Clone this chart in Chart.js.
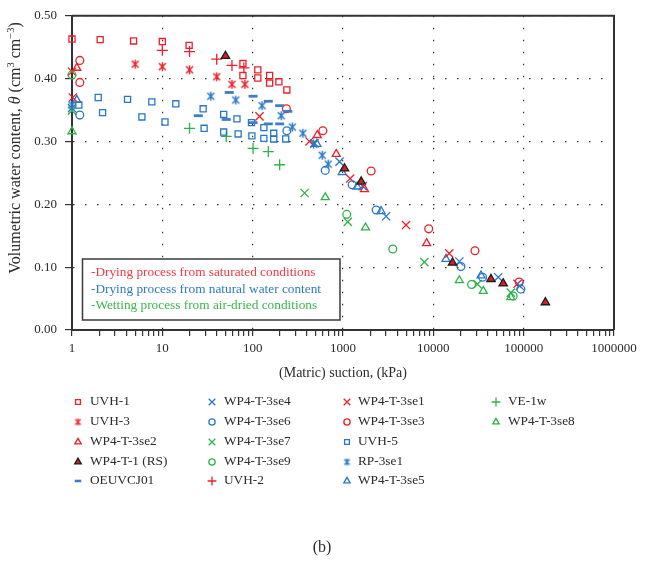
<!DOCTYPE html>
<html lang="en">
<head>
<meta charset="UTF-8" />
<title>Water retention data</title>
<script src="https://cdn.jsdelivr.net/npm/chart.js"></script>
<style>
  html, body { margin: 0; padding: 0; background: #fff; }
  #wrap { width: 645px; height: 561px; }
</style>
</head>
<body>
<div id="wrap"><canvas id="wrc" width="645" height="561"></canvas></div>
<script>
// [suction kPa, volumetric water content]
const uvh1 = [[1,0.463],[2.05,0.462],[4.8,0.460],[10,0.459],[19.8,0.453],[78,0.424],[78,0.405],[114,0.414],[114,0.401],[154,0.405],[154,0.393],[195,0.395],[239,0.382]];
const uvh3 = [[5,0.423],[10,0.419],[20,0.414],[40,0.403],[59,0.391],[82,0.391]];
const se2 = [[1.13,0.417],[519,0.310],[841,0.280],[1730,0.224],[8430,0.138]];
const rs1 = [[50,0.436],[1040,0.257],[1590,0.236],[16300,0.107],[43400,0.081],[59300,0.074],[174000,0.044]];
const oeuvcj01 = [[25,0.341],[51,0.335],[55,0.378],[101,0.372],[101,0.330],[149,0.364],[149,0.328],[199,0.357],[199,0.328],[245,0.348]];
const se4 = [[1,0.353],[484,0.297],[915,0.268],[1655,0.229],[3000,0.181],[19400,0.109],[52300,0.084],[90800,0.070]];
const se6 = [[1.22,0.342],[239,0.317],[636,0.254],[1262,0.231],[2330,0.191],[20200,0.101],[35100,0.084],[93100,0.065]];
const se7 = [[1,0.349],[376,0.218],[1130,0.172],[7960,0.108],[30800,0.073],[72100,0.0595]];
const se9 = [[1,0.406],[1100,0.184],[3560,0.129],[26500,0.0725],[76500,0.054]];
const uvh2 = [[10,0.445],[20,0.443],[40,0.431],[59,0.421],[80,0.417]];
const se1 = [[1,0.411],[1.02,0.370],[119,0.340],[426,0.300],[1200,0.241],[4990,0.167],[15000,0.122],[85500,0.0735]];
const se3 = [[1.22,0.429],[1.22,0.394],[236,0.352],[598,0.317],[2050,0.253],[8880,0.161],[28900,0.126],[89200,0.0765]];
const uvh5 = [[1.19,0.358],[1.95,0.370],[2.18,0.346],[4.12,0.367],[5.94,0.339],[7.65,0.363],[10.7,0.331],[14.1,0.360],[28.3,0.352],[29,0.321],[47.8,0.343],[47.8,0.315],[67,0.336],[69,0.312],[97,0.330],[98,0.309],[133,0.322],[133,0.305],[171,0.313],[171,0.304],[232,0.304]];
const rp3se1 = [[1,0.358],[34.4,0.372],[65,0.366],[127,0.357],[207,0.341],[275,0.323],[360,0.313],[472,0.296],[589,0.278],[686,0.264]];
const se5 = [[1.13,0.366],[514,0.296],[980,0.251],[1435,0.228],[2640,0.189],[13800,0.113],[33700,0.0865]];
const ve1w = [[20,0.321],[51,0.308],[101,0.289],[149,0.284],[199,0.263]];
const se8 = [[1,0.316],[636,0.211],[1775,0.163],[19400,0.079],[35700,0.062],[72100,0.052]];

const xTickLabels = ['1', '10', '100', '1000', '10000', '100000', '1000000'];
const processNotes = ['-Drying process from saturated conditions', '-Drying process from natural water content', '-Wetting process from air-dried conditions'];

const serif = '"Liberation Serif", "DejaVu Serif", serif';
const RED = '#ec1f28', BLUE = '#2677c6', GREEN = '#2fb24b';
const noteColors = ['#ec3a44', '#2e7ac2', '#3cb54c'];
const NONE = 'rgba(0,0,0,0)';

// asterisk drawn as an x with a vertical bar
function asterisk(color, size, lw) {
  const c = document.createElement('canvas');
  c.width = c.height = size;
  const g = c.getContext('2d');
  const h = size / 2, r = h - 1, d = r * 0.78;
  g.strokeStyle = color;
  g.lineWidth = lw;
  g.beginPath();
  g.moveTo(h - d, h - d); g.lineTo(h + d, h + d);
  g.moveTo(h + d, h - d); g.lineTo(h - d, h + d);
  g.moveTo(h, h - r); g.lineTo(h, h + r);
  g.stroke();
  return c;
}

function series(label, pts, style) {
  return Object.assign({
    label,
    data: pts.map(p => ({ x: p[0], y: p[1] })),
    backgroundColor: NONE,
    borderWidth: 1.3,
    pointRadius: 4,
    clip: false
  }, style);
}

const datasets = [
  series('UVH-1', uvh1, { pointStyle: 'rect', pointRadius: 4.3, borderColor: RED }),
  series('UVH-3', uvh3, { pointStyle: asterisk(RED, 11, 1.4), borderColor: RED, legendImg: asterisk(RED, 9, 1.3) }),
  series('WP4-T-3se2', se2, { pointStyle: 'triangle', pointRadius: 4.6, borderColor: RED }),
  series('WP4-T-1 (RS)', rs1, { pointStyle: 'triangle', pointRadius: 4.8, borderColor: '#1c1c1c', backgroundColor: '#d51f26' }),
  series('OEUVCJ01', oeuvcj01, { pointStyle: 'line', pointRadius: 4.5, borderWidth: 2.8, borderColor: '#3d7dc4' }),
  series('WP4-T-3se4', se4, { pointStyle: 'crossRot', pointRadius: 5.8, borderColor: BLUE }),
  series('WP4-T-3se6', se6, { pointStyle: 'circle', pointRadius: 3.9, borderColor: BLUE }),
  series('WP4-T-3se7', se7, { pointStyle: 'crossRot', pointRadius: 5.8, borderColor: GREEN }),
  series('WP4-T-3se9', se9, { pointStyle: 'circle', pointRadius: 3.9, borderColor: GREEN }),
  series('UVH-2', uvh2, { pointStyle: 'cross', pointRadius: 5.5, borderColor: RED }),
  series('WP4-T-3se1', se1, { pointStyle: 'crossRot', pointRadius: 5.8, borderColor: RED }),
  series('WP4-T-3se3', se3, { pointStyle: 'circle', pointRadius: 3.9, borderColor: RED }),
  series('UVH-5', uvh5, { pointStyle: 'rect', pointRadius: 4.3, borderColor: BLUE }),
  series('RP-3se1', rp3se1, { pointStyle: asterisk(BLUE, 11, 1.4), borderColor: BLUE, legendImg: asterisk(BLUE, 9, 1.3) }),
  series('WP4-T-3se5', se5, { pointStyle: 'triangle', pointRadius: 4.6, borderColor: BLUE }),
  series('VE-1w', ve1w, { pointStyle: 'cross', pointRadius: 5.5, borderColor: GREEN }),
  series('WP4-T-3se8', se8, { pointStyle: 'triangle', pointRadius: 4.6, borderColor: GREEN })
];

const isDecade = v => Math.abs(Math.log10(v) - Math.round(Math.log10(v))) < 1e-9;

// small legend marker
function marker(ctx, ds, x, y) {
  const style = ds.pointStyle;
  const r = ds.pointRadius * 0.8;
  ctx.save();
  ctx.strokeStyle = ds.borderColor;
  ctx.fillStyle = ds.backgroundColor;
  ctx.lineWidth = style === 'line' ? 2.6 : 1.3;
  if (typeof style !== 'string') {
    const img = ds.legendImg;
    ctx.drawImage(img, x - img.width / 2, y - img.height / 2);
    ctx.restore();
    return;
  }
  ctx.beginPath();
  if (style === 'rect') {
    const s = r * Math.SQRT1_2;
    ctx.rect(x - s, y - s, 2 * s, 2 * s);
  } else if (style === 'circle') {
    ctx.arc(x, y, r, 0, Math.PI * 2);
  } else if (style === 'triangle') {
    ctx.moveTo(x, y - r);
    ctx.lineTo(x + r * 0.866, y + r / 2);
    ctx.lineTo(x - r * 0.866, y + r / 2);
    ctx.closePath();
  } else if (style === 'cross') {
    ctx.moveTo(x - r, y); ctx.lineTo(x + r, y);
    ctx.moveTo(x, y - r); ctx.lineTo(x, y + r);
  } else if (style === 'crossRot') {
    const d = r * Math.SQRT1_2;
    ctx.moveTo(x - d, y - d); ctx.lineTo(x + d, y + d);
    ctx.moveTo(x + d, y - d); ctx.lineTo(x - d, y + d);
  } else if (style === 'line') {
    ctx.moveTo(x - r * 0.9, y); ctx.lineTo(x + r * 0.9, y);
  }
  ctx.fill();
  ctx.stroke();
  ctx.restore();
}

const decor = {
  id: 'decor',
  afterDatasetsDraw(chart) {
    const ctx = chart.ctx;
    // process note box
    ctx.save();
    ctx.fillStyle = '#fff';
    ctx.strokeStyle = '#3a3a3a';
    ctx.lineWidth = 1.5;
    ctx.fillRect(82.5, 259, 257.5, 61);
    ctx.strokeRect(82.5, 259, 257.5, 61);
    ctx.font = '13.3px ' + serif;
    ctx.textBaseline = 'middle';
    processNotes.forEach((t, i) => {
      ctx.fillStyle = noteColors[i];
      ctx.fillText(t, 91, 273 + i * 16.5);
    });
    ctx.restore();
  },
  afterDraw(chart) {
    const ctx = chart.ctx;
    const a = chart.chartArea;
    ctx.save();
    // frame
    ctx.strokeStyle = '#333';
    ctx.lineWidth = 2;
    ctx.beginPath();
    ctx.moveTo(a.left, a.top); ctx.lineTo(a.right, a.top); ctx.lineTo(a.right, a.bottom);
    ctx.stroke();

    ctx.fillStyle = '#2b2b2b';
    ctx.textBaseline = 'middle';

    // x title
    ctx.font = '14px ' + serif;
    ctx.textAlign = 'center';
    ctx.fillText('(Matric) suction, (kPa)', (a.left + a.right) / 2, 373);

    // y title with italic theta and superscripts
    const parts = [
      ['Volumetric water content, ', '16px ' + serif, 0],
      ['\u03B8', 'italic 16px ' + serif, 0],
      [' (cm', '16px ' + serif, 0],
      ['3', '10.5px ' + serif, -5],
      [' cm', '16px ' + serif, 0],
      ['\u22123', '10.5px ' + serif, -5],
      [')', '16px ' + serif, 0]
    ];
    let total = 0;
    parts.forEach(p => { ctx.font = p[1]; total += ctx.measureText(p[0]).width; });
    ctx.translate(16, 148);
    ctx.rotate(-Math.PI / 2);
    ctx.textAlign = 'left';
    let px = -total / 2;
    parts.forEach(p => {
      ctx.font = p[1];
      ctx.fillText(p[0], px, p[2]);
      px += ctx.measureText(p[0]).width;
    });
    ctx.restore();

    // legend, four columns filled top to bottom
    const colMark = [78, 212, 347, 496];
    const colText = [90, 224, 358, 508];
    const rowY = [402, 422, 442, 462, 481];
    ctx.save();
    ctx.font = '13.3px ' + serif;
    ctx.textBaseline = 'middle';
    ctx.fillStyle = '#2b2b2b';
    chart.data.datasets.forEach((ds, i) => {
      const c = Math.floor(i / 5), r = i % 5;
      marker(ctx, ds, colMark[c], rowY[r]);
      ctx.fillText(ds.label, colText[c], rowY[r]);
    });
    ctx.font = '16px ' + serif;
    ctx.textAlign = 'center';
    ctx.fillText('(b)', 322, 548);
    ctx.restore();
  }
};

new Chart(document.getElementById('wrc'), {
  type: 'scatter',
  data: { datasets },
  options: {
    responsive: false,
    animation: false,
    events: [],
    layout: { padding: { top: 8, right: 31, left: 0, bottom: 0 } },
    plugins: { legend: { display: false }, tooltip: { enabled: false } },
    scales: {
      x: {
        type: 'logarithmic',
        min: 1,
        max: 1e6,
        afterBuildTicks(scale) {
          const t = [];
          for (let e = 0; e < 6; e++) {
            for (let m = 1; m < 10; m++) t.push({ value: m * Math.pow(10, e) });
          }
          t.push({ value: 1e6 });
          scale.ticks = t;
        },
        afterFit(scale) { scale.height = 231; },
        ticks: {
          autoSkip: false,
          maxRotation: 0,
          padding: 5,
          color: '#2b2b2b',
          font: { family: serif, size: 13 },
          callback: v => isDecade(v) ? xTickLabels[Math.round(Math.log10(v))] : ''
        },
        grid: {
          color: c => (c.tick && isDecade(c.tick.value)) ? '#333' : NONE,
          tickColor: '#333',
          tickLength: 6,
          lineWidth: 1.2,
          tickWidth: 1.2
        },
        border: { display: true, color: '#333', width: 2, dash: [1.5, 10.5] }
      },
      y: {
        min: 0,
        max: 0.5,
        afterFit(scale) { scale.width = 72; },
        ticks: {
          stepSize: 0.1,
          padding: 8,
          color: '#2b2b2b',
          font: { family: serif, size: 13 },
          callback: v => v.toFixed(2)
        },
        grid: { color: '#333', tickColor: '#333', tickLength: 7, lineWidth: 1.2, tickWidth: 1.2 },
        border: { display: true, color: '#333', width: 2, dash: [1.5, 10.5] }
      }
    }
  },
  plugins: [decor]
});
</script>
</body>
</html>
